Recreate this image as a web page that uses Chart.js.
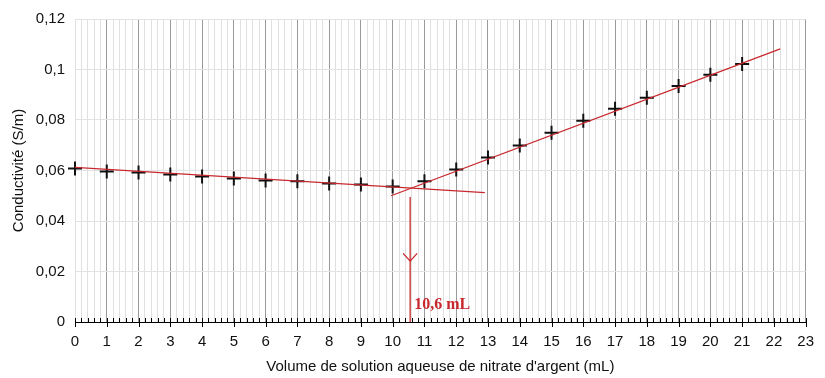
<!DOCTYPE html>
<html>
<head>
<meta charset="utf-8">
<script src="https://cdn.jsdelivr.net/npm/chart.js@4.4.1/dist/chart.umd.min.js"></script>
<style>
  html, body { margin: 0; padding: 0; background: #fff; }
  #wrap { width: 825px; height: 378px; }
</style>
</head>
<body>
<div id="wrap"><canvas id="myChart"></canvas></div>
<script>
// volumes versées (mL) et conductivités mesurées (S/m)
const volumes = [0, 1, 2, 3, 4, 5, 6, 7, 8, 9, 10, 11, 12, 13, 14, 15, 16, 17, 18, 19, 20, 21];
const conductivites = [0.0608, 0.0596, 0.0592, 0.0584, 0.0576, 0.0568, 0.0560, 0.0557, 0.0549, 0.0545, 0.0537,
  0.0557, 0.0604, 0.0651, 0.0699, 0.0750, 0.0797, 0.0845, 0.0888, 0.0935, 0.0979, 0.1022];

// droites tracees a la main
const droite1X = [0, 12.9];
const droite1Y = [0.0612, 0.0512];
const droite2X = [9.95, 22.2];
const droite2Y = [0.0500, 0.1082];

// equivalence
const veq = 10.55;
const veqLabel = "10,6 mL";
const flecheY = [0.0495, 0];
const pointeX = [veq - 0.22, veq, veq + 0.22];
const pointeY = [0.0272, 0.0241, 0.0272];

const xMax = 23;
const yMax = 0.12;

const rouge = "#c8282d";

function pts(xs, ys) {
  return xs.map((x, i) => ({ x: x, y: ys[i] }));
}

function isInt(v) {
  return Math.abs(v - Math.round(v)) < 1e-6;
}

// petites graduations de l'axe x + etiquette 10,6 mL
const extras = {
  id: "extras",
  afterDatasetsDraw(chart) {
    const c = chart.ctx;
    const xs = chart.scales.x;
    const ys = chart.scales.y;
    const y0 = ys.getPixelForValue(0);
    c.save();
    c.strokeStyle = "#000";
    c.lineWidth = 1;
    for (let i = 0; i <= xMax * 5; i++) {
      const v = i / 5;
      const px = Math.round(xs.getPixelForValue(v)) + 0.5;
      c.beginPath();
      if (i % 5 === 0) {
        c.moveTo(px, y0 - 4);
        c.lineTo(px, y0 + 5);
      } else {
        c.moveTo(px, y0 - 4);
        c.lineTo(px, y0);
      }
      c.stroke();
    }
    c.fillStyle = rouge;
    c.font = "bold 16px 'Liberation Serif', serif";
    c.textBaseline = "middle";
    c.fillText(veqLabel, xs.getPixelForValue(veq) + 4, ys.getPixelForValue(0.0068));
    c.restore();
  },
};

const ctx = document.getElementById("myChart").getContext("2d");
const myChart = new Chart(ctx, {
  type: "scatter",
  data: {
    datasets: [
      {
        label: "mesures",
        data: pts(volumes, conductivites),
        pointStyle: "cross",
        pointRadius: 7,
        pointBorderWidth: 2,
        borderColor: "#111",
        backgroundColor: "#111",
        showLine: false,
        clip: false,
        order: 2,
      },
      {
        label: "droite 1",
        data: pts(droite1X, droite1Y),
        showLine: true,
        borderColor: rouge,
        borderWidth: 1.3,
        pointRadius: 0,
        order: 1,
      },
      {
        label: "droite 2",
        data: pts(droite2X, droite2Y),
        showLine: true,
        borderColor: rouge,
        borderWidth: 1.3,
        pointRadius: 0,
        order: 1,
      },
      {
        label: "fleche",
        data: pts([veq, veq], flecheY),
        showLine: true,
        borderColor: rouge,
        borderWidth: 1.3,
        pointRadius: 0,
        order: 1,
      },
      {
        label: "pointe",
        data: pts(pointeX, pointeY),
        showLine: true,
        borderColor: rouge,
        borderWidth: 1.3,
        pointRadius: 0,
        order: 1,
      },
    ],
  },
  options: {
    responsive: true,
    maintainAspectRatio: false,
    animation: false,
    layout: { padding: { top: 17, right: 10, left: 0, bottom: 0 } },
    plugins: {
      legend: { display: false },
      tooltip: { enabled: false },
    },
    scales: {
      x: {
        type: "linear",
        min: 0,
        max: xMax,
        afterFit(scale) { scale.height = 56; },
        border: { display: true, color: "#000", width: 1 },
        grid: {
          drawTicks: false,
          color: (c) => (c.tick && isInt(c.tick.value) && c.tick.value > 0 ? "#9a9a9a" : "#e0e0e0"),
          lineWidth: 1,
        },
        ticks: {
          stepSize: 0.2,
          autoSkip: false,
          maxRotation: 0,
          padding: 11,
          color: "#111",
          font: { family: "'Liberation Sans', Arial, sans-serif", size: 15 },
          callback: (v) => (isInt(v) ? String(Math.round(v)) : ""),
        },
        title: {
          display: true,
          text: "Volume de solution aqueuse de nitrate d'argent (mL)",
          color: "#111",
          font: { family: "'Liberation Sans', Arial, sans-serif", size: 15 },
          padding: { top: 2, bottom: 2 },
        },
      },
      y: {
        min: 0,
        max: yMax,
        afterFit(scale) { scale.width = 75; },
        border: { display: false },
        grid: { drawTicks: false, color: "#e3e3e3", lineWidth: 1 },
        ticks: {
          stepSize: 0.02,
          padding: 10,
          color: "#111",
          font: { family: "'Liberation Sans', Arial, sans-serif", size: 15 },
          callback: (v) => String(+v.toFixed(2)).replace(".", ","),
        },
        title: {
          display: true,
          text: "Conductivité (S/m)",
          color: "#111",
          font: { family: "'Liberation Sans', Arial, sans-serif", size: 15 },
          padding: { top: 10, bottom: 0 },
        },
      },
    },
  },
  plugins: [extras],
});
</script>
</body>
</html>
